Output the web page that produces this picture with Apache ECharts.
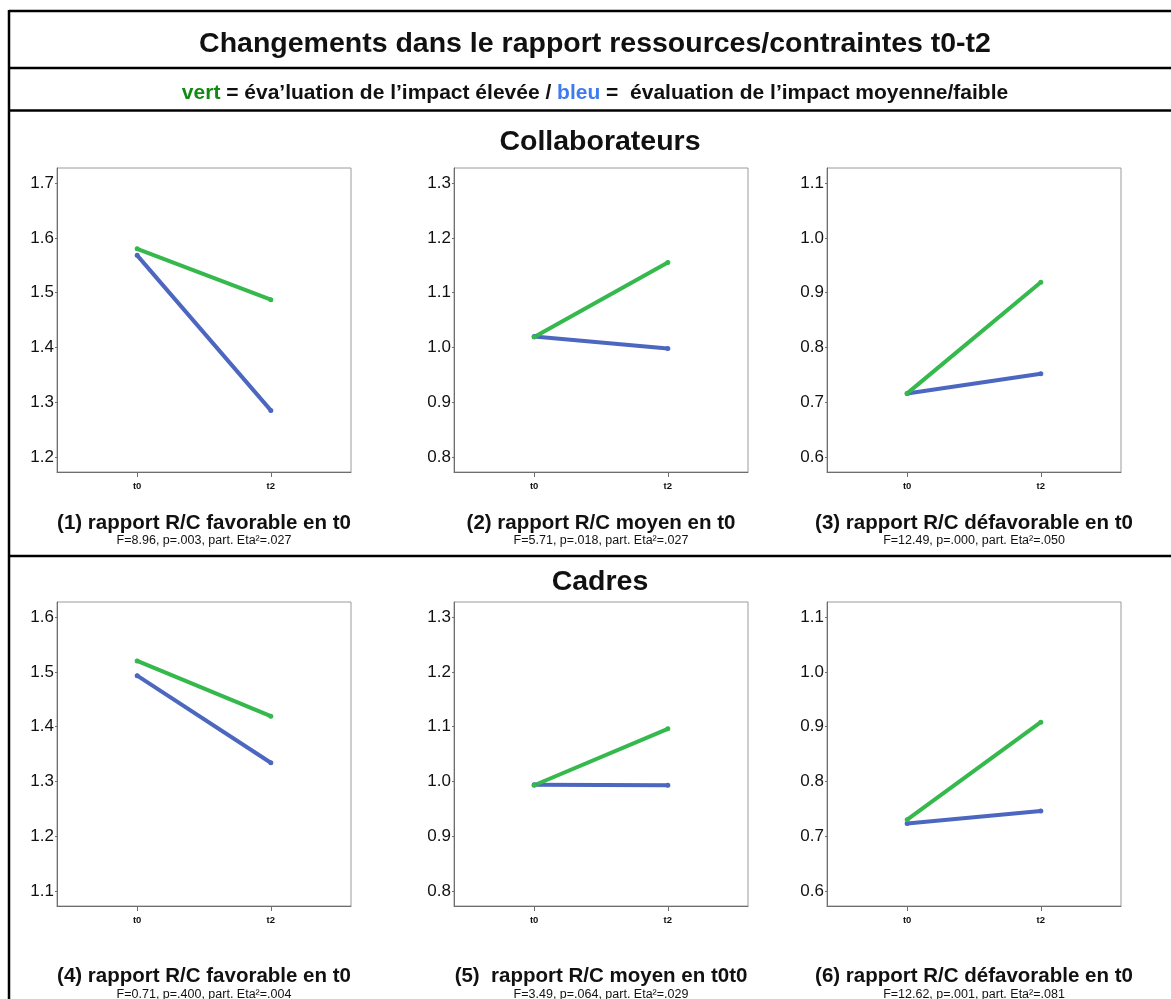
<!DOCTYPE html>
<html>
<head>
<meta charset="utf-8">
<script src="https://cdn.jsdelivr.net/npm/echarts@6/dist/echarts.min.js"></script>
<style>
  html, body { margin: 0; padding: 0; background: #fff; }
  #chart { width: 1171px; height: 999px; }
</style>
</head>
<body>
<div id="chart"></div>
<script>
// Measurement times shown on every x axis
const timeLabels = ['t0', 't2'];

// Section headings (one per row of panels)
const sectionTitles = ['Collaborateurs', 'Cadres'];

// Panel captions and statistics
const panelTitles = [
  '(1) rapport R/C favorable en t0',
  '(2) rapport R/C moyen en t0',
  '(3) rapport R/C défavorable en t0',
  '(4) rapport R/C favorable en t0',
  '(5)  rapport R/C moyen en t0t0',
  '(6) rapport R/C défavorable en t0'
];
const panelStats = [
  'F=8.96, p=.003, part. Eta²=.027',
  'F=5.71, p=.018, part. Eta²=.027',
  'F=12.49, p=.000, part. Eta²=.050',
  'F=0.71, p=.400, part. Eta²=.004',
  'F=3.49, p=.064, part. Eta²=.029',
  'F=12.62, p=.001, part. Eta²=.081'
];

// Y tick values per panel
const yTicksP1 = [1.2, 1.3, 1.4, 1.5, 1.6, 1.7];
const yTicksP2 = [0.8, 0.9, 1.0, 1.1, 1.2, 1.3];
const yTicksP3 = [0.6, 0.7, 0.8, 0.9, 1.0, 1.1];
const yTicksP4 = [1.1, 1.2, 1.3, 1.4, 1.5, 1.6];
const yTicksP5 = [0.8, 0.9, 1.0, 1.1, 1.2, 1.3];
const yTicksP6 = [0.6, 0.7, 0.8, 0.9, 1.0, 1.1];
const yTicks = [yTicksP1, yTicksP2, yTicksP3, yTicksP4, yTicksP5, yTicksP6];

// Means: high impact evaluation (green), medium/low impact evaluation (blue)
const highT0 = [1.580, 1.019, 0.716, 1.520, 0.993, 0.730];
const highT2 = [1.487, 1.155, 0.919, 1.419, 1.096, 0.908];
const lowT0  = [1.568, 1.020, 0.716, 1.493, 0.994, 0.723];
const lowT2  = [1.285, 0.998, 0.752, 1.334, 0.993, 0.746];

const GREEN = '#35b84c';
const BLUE = '#4c67c0';
const FONT = '"Liberation Sans", Arial, Helvetica, sans-serif';

const colLeft = [57, 454, 827];
const plotW = 294, plotH = 304;
const rowTop = [168, 602];
const captionTop = [513, 966];
const statsTop = [534, 988];
const pad = 0.0275;

const grids = [], xAxes = [], yAxes = [], series = [], titles = [];

for (let i = 0; i < 6; i++) {
  const r = Math.floor(i / 3), c = i % 3;
  const ticks = yTicks[i];
  grids.push({
    left: colLeft[c], top: rowTop[r], width: plotW, height: plotH,
    show: true, borderColor: '#9a9a9a', borderWidth: 1, backgroundColor: '#fff'
  });
  xAxes.push({
    type: 'value', gridIndex: i, min: -0.6, max: 1.6,
    splitLine: { show: false },
    axisLine: { show: true, onZero: false, lineStyle: { color: '#6e6e6e', width: 1 } },
    axisTick: { show: true, customValues: [0, 1], length: 5, lineStyle: { color: '#6e6e6e' } },
    axisLabel: {
      customValues: [0, 1], margin: 9,
      formatter: v => timeLabels[Math.round(v)],
      fontFamily: FONT, fontSize: 9.5, fontWeight: 'bold', color: '#111'
    }
  });
  yAxes.push({
    type: 'value', gridIndex: i,
    min: ticks[0] - pad, max: ticks[ticks.length - 1] + pad,
    splitLine: { show: false },
    axisLine: { show: true, onZero: false, lineStyle: { color: '#6e6e6e', width: 1 } },
    axisTick: { show: true, customValues: ticks, length: 2, lineStyle: { color: '#6e6e6e' } },
    axisLabel: {
      customValues: ticks, margin: 3,
      formatter: v => v.toFixed(1),
      fontFamily: FONT, fontSize: 17, color: '#111'
    }
  });
  const lineOpts = (name, color, a, b) => ({
    name, type: 'line', xAxisIndex: i, yAxisIndex: i,
    data: [[0, a], [1, b]],
    symbol: 'circle', symbolSize: 5, showSymbol: true,
    lineStyle: { color, width: 4, cap: 'round' },
    itemStyle: { color },
    emphasis: { disabled: true }, animation: false
  });
  series.push(lineOpts('moyenne/faible', BLUE, lowT0[i], lowT2[i]));
  series.push(lineOpts('élevée', GREEN, highT0[i], highT2[i]));

  const cx = colLeft[c] + plotW / 2;
  titles.push({
    text: panelTitles[i], padding: 0,
    left: cx, top: captionTop[r], textAlign: 'center',
    textStyle: { fontFamily: FONT, fontSize: 20.5, fontWeight: 'bold', color: '#111' }
  });
  titles.push({
    text: panelStats[i], padding: 0,
    left: cx, top: statsTop[r], textAlign: 'center',
    textStyle: { fontFamily: FONT, fontSize: 12.5, fontWeight: 'normal', color: '#111' }
  });
}

// Main heading, colour key and section headings
titles.push({
  text: 'Changements dans le rapport ressources/contraintes t0-t2',
  left: 590, top: 25, textAlign: 'center',
  textStyle: { fontFamily: FONT, fontSize: 28.5, fontWeight: 'bold', color: '#111' }
});
titles.push({
  text: '{g|vert} = éva\u2019luation de l\u2019impact élevée / {b|bleu} =  évaluation de l\u2019impact moyenne/faible',
  left: 590, top: 78, textAlign: 'center',
  textStyle: {
    fontFamily: FONT, fontSize: 21, fontWeight: 'bold', color: '#111',
    rich: {
      g: { fontFamily: FONT, fontSize: 21, fontWeight: 'bold', color: '#138a13' },
      b: { fontFamily: FONT, fontSize: 21, fontWeight: 'bold', color: '#3f7bf0' }
    }
  }
});
titles.push({
  text: sectionTitles[0], left: 595, top: 123, textAlign: 'center',
  textStyle: { fontFamily: FONT, fontSize: 28.5, fontWeight: 'bold', color: '#111' }
});
titles.push({
  text: sectionTitles[1], left: 595, top: 563, textAlign: 'center',
  textStyle: { fontFamily: FONT, fontSize: 28.5, fontWeight: 'bold', color: '#111' }
});

// Frame and separator rules
const rule = (x1, y1, x2, y2) => ({
  type: 'line', silent: true,
  shape: { x1, y1, x2, y2 },
  style: { stroke: '#000', lineWidth: 2.5 }
});
const graphic = [
  rule(9, 11, 1171, 11),
  rule(9, 10, 9, 999),
  rule(9, 68, 1171, 68),
  rule(9, 110.5, 1171, 110.5),
  rule(9, 556, 1171, 556)
];

const chart = echarts.init(document.getElementById('chart'), null, { renderer: 'canvas' });
chart.setOption({
  backgroundColor: '#fff',
  animation: false,
  title: titles,
  grid: grids,
  xAxis: xAxes,
  yAxis: yAxes,
  series,
  graphic
});
</script>
</body>
</html>
